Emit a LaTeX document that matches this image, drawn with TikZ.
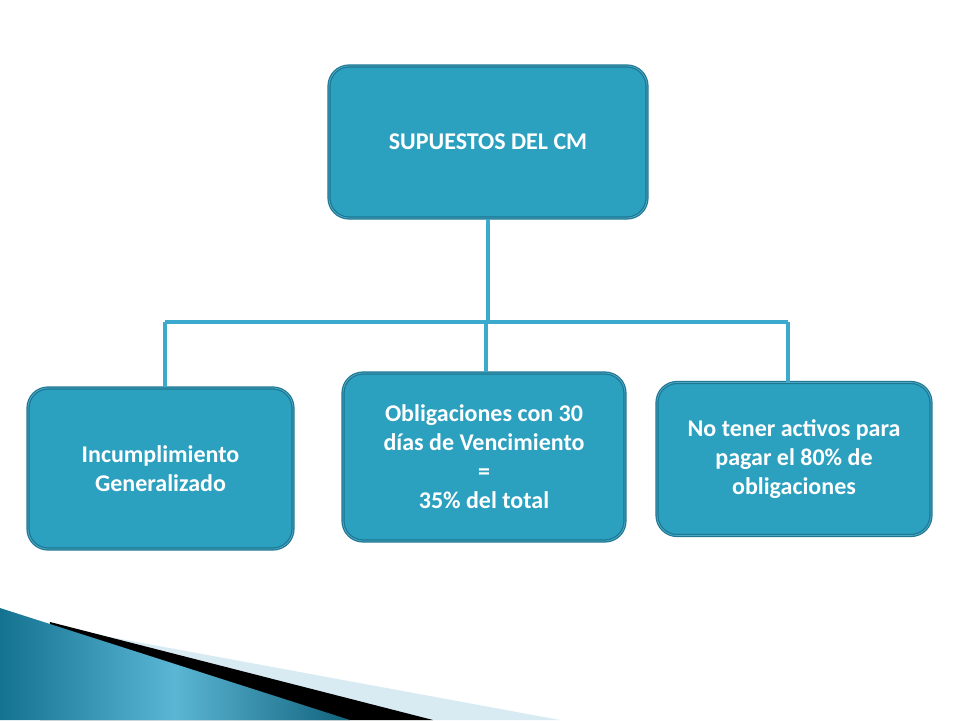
\documentclass[tikz,border=0pt]{standalone}
\usepackage{fontspec}
\setmainfont{Carlito}
\usepackage{tikz}
\usetikzlibrary{positioning}
\definecolor{boxfill}{RGB}{43,160,191}
\definecolor{boxline}{RGB}{30,118,145}
\definecolor{boxinner}{RGB}{75,170,200}
\definecolor{linkblue}{RGB}{59,170,204}
\definecolor{darkteal}{RGB}{20,115,145}
\definecolor{lightteal}{RGB}{90,182,212}
\definecolor{paleblue}{RGB}{216,234,242}
\tikzstyle{cmbox} = [rectangle, rounded corners=20pt, fill=boxfill, draw=boxline, line width=1.2pt, double=boxinner, double distance=0.8pt, text=white, font={\fontsize{24}{29}\selectfont\bfseries}, align=center, inner sep=0pt]
\tikzstyle{link} = [draw=linkblue, line width=3.5pt]

\begin{document}
\begin{tikzpicture}[x=1pt,y=-1pt]
				\useasboundingbox (0,0) rectangle (960,720);
				% decoration in the corner
				\fill[paleblue] (110,637) -- (560,720) -- (60,720) -- cycle;
				\fill[black] (50,622) -- (433,720) -- (40,720) -- cycle;
				\shade[left color=darkteal, right color=darkteal!85!black, middle color=lightteal] (0,608) -- (350,720) -- (0,720) -- cycle;
				% boxes
				\node[cmbox, minimum width=318pt, minimum height=152pt] (top) at (488,142) {SUPUESTOS DEL CM};
				\node[cmbox, minimum width=265pt, minimum height=161pt] (left) at (160.5,468.5) {Incumplimiento\\Generalizado};
				\node[cmbox, minimum width=282pt, minimum height=168pt] (mid) at (484,457) {Obligaciones con 30\\días de Vencimiento\\=\\35\% del total};
				\node[cmbox, minimum width=274pt, minimum height=153pt] (right) at (794,459) {No tener activos para\\pagar el 80\% de\\obligaciones};
				% connectors
				\coordinate (hub) at (488,322);
				\coordinate (bl) at (165,322);
				\coordinate (br) at (788,322);
				\draw[link] (hub |- top.south) -- (hub);
				\draw[link] (bl) -- (br);
				\draw[link] (bl) -- (bl |- left.north);
				\draw[link] (hub -| 486,0) -- (mid.north -| 486,0);
				\draw[link] (br) -- (br |- right.north);
			\end{tikzpicture}
\end{document}
